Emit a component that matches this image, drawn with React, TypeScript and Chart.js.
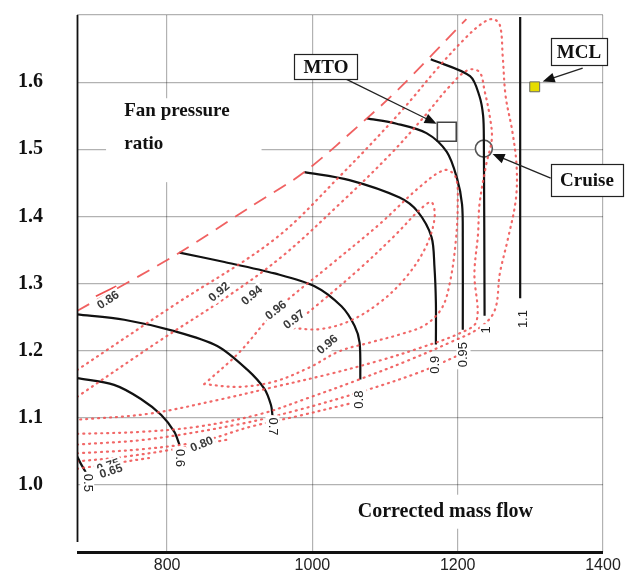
import { useEffect, useRef } from "react";
import { Chart, registerables } from "chart.js";
Chart.register(...registerables);

// ---------- axes ----------
const X_MIN = 676;
const X_MAX = 1400;
const Y_MIN = 0.9;
const Y_MAX = 1.7;
const X_TICKS = [800, 1000, 1200, 1400];
const Y_TICK_LABELS = ["1.0", "1.1", "1.2", "1.3", "1.4", "1.5", "1.6"];

// ---------- surge line ----------
const SURGE_X = [676, 814, 913, 989, 1075, 1120, 1212];
const SURGE_Y = [1.259, 1.344, 1.413, 1.466, 1.546, 1.591, 1.694];

// ---------- speed lines ----------
const N050_X = [676, 681, 688];
const N050_Y = [1.043, 1.032, 1.019];
const N060_X = [676, 727, 764, 792, 810, 817];
const N060_Y = [1.159, 1.149, 1.128, 1.104, 1.079, 1.06];
const N070_X = [676, 741, 810, 869, 910, 934, 943, 945];
const N070_Y = [1.254, 1.246, 1.229, 1.207, 1.172, 1.143, 1.119, 1.104];
const N080_X = [817, 879, 948, 1003, 1040, 1058, 1065, 1066];
const N080_Y = [1.346, 1.332, 1.315, 1.296, 1.266, 1.237, 1.212, 1.157];
const N090_X = [989, 1051, 1120, 1145, 1164, 1168, 1170, 1170];
const N090_Y = [1.466, 1.454, 1.428, 1.407, 1.369, 1.325, 1.271, 1.209];
const N095_X = [1075, 1116, 1157, 1185, 1199, 1206, 1207, 1207];
const N095_Y = [1.546, 1.538, 1.524, 1.496, 1.457, 1.418, 1.369, 1.231];
const N100_X = [1163, 1217, 1230, 1235, 1236, 1237];
const N100_Y = [1.634, 1.609, 1.579, 1.55, 1.516, 1.252];
const N110_X = [1286, 1286];
const N110_Y = [1.697, 1.278];

const SPEED_LABELS = ["0.5", "0.6", "0.7", "0.8", "0.9", "0.95", "1", "1.1"];
const SPEED_LABEL_X = [690, 817, 945, 1065, 1170, 1208, 1240, 1290];
const SPEED_LABEL_Y = [1.003, 1.04, 1.087, 1.127, 1.179, 1.194, 1.231, 1.247];
const SPEED_LABEL_ROT = [90, 90, 90, -90, -90, -90, -90, -90];

// ---------- efficiency contours ----------
const CA_X = [676, 810, 948, 1037, 1120, 1175, 1210, 1233, 1248, 1258, 1262, 1266, 1275, 1281, 1280, 1269, 1258, 1251, 1230, 1189, 1131, 1062, 993, 930, 844, 764, 676];
const CA_Y = [1.171, 1.268, 1.366, 1.459, 1.554, 1.624, 1.665, 1.687, 1.694, 1.685, 1.638, 1.579, 1.528, 1.476, 1.425, 1.366, 1.315, 1.26, 1.234, 1.212, 1.185, 1.156, 1.129, 1.106, 1.087, 1.079, 1.076];
const CB_X = [676, 786, 885, 959, 1037, 1106, 1155, 1189, 1214, 1230, 1237, 1244, 1247, 1239, 1230, 1228, 1223, 1226, 1203, 1148, 1092, 1023, 948, 872, 775, 676];
const CB_Y = [1.131, 1.212, 1.282, 1.341, 1.418, 1.491, 1.55, 1.594, 1.618, 1.615, 1.587, 1.55, 1.516, 1.476, 1.418, 1.374, 1.315, 1.244, 1.226, 1.204, 1.185, 1.165, 1.146, 1.127, 1.106, 1.097];
const CC_X = [851, 899, 950, 1023, 1092, 1148, 1182, 1197, 1200, 1197, 1189, 1178, 1155, 1120, 1079, 1037, 996, 948, 899, 851];
const CC_Y = [1.15, 1.197, 1.26, 1.326, 1.388, 1.444, 1.469, 1.459, 1.418, 1.359, 1.3, 1.263, 1.238, 1.224, 1.212, 1.199, 1.175, 1.154, 1.146, 1.15];
const CD_X = [968, 1010, 1065, 1113, 1148, 1164, 1168, 1155, 1127, 1092, 1051, 1010, 968];
const CD_Y = [1.234, 1.271, 1.322, 1.371, 1.41, 1.421, 1.396, 1.352, 1.307, 1.271, 1.244, 1.232, 1.234];
const CE_X = [676, 775, 902, 982, 1065, 1148, 1203];
const CE_Y = [1.06, 1.068, 1.091, 1.112, 1.138, 1.168, 1.194];
const CF_X = [676, 764, 847, 916, 982, 1051];
const CF_Y = [1.047, 1.053, 1.065, 1.087, 1.103, 1.121];
const CG_X = [676, 734, 810, 886];
const CG_Y = [1.035, 1.041, 1.053, 1.068];
const CH_X = [676, 720, 775];
const CH_Y = [1.024, 1.031, 1.04];
const C86_X = [702, 730];
const C86_Y = [1.281, 1.296];

const EFF_LABELS = ["0.86", "0.92", "0.94", "0.96", "0.97", "0.96", "0.80", "0.75", "0.65"];
const EFF_LABEL_X = [719, 872, 917, 950, 975, 1021, 848, 719, 723];
const EFF_LABEL_Y = [1.275, 1.287, 1.282, 1.26, 1.246, 1.209, 1.06, 1.028, 1.02];
const EFF_LABEL_ROT = [-33, -40, -40, -38, -38, -40, -22, -18, -18];

// ---------- operating points ----------
const POINT_NAMES = ["MTO", "Cruise", "MCL"];
const POINT_X = [1185, 1236, 1306];
const POINT_Y = [1.526, 1.501, 1.593];

// ---------- annotations ----------
const FPR_LINES = ["Fan pressure", "ratio"];
const FPR_X = 741;
const FPR_Y = [1.549, 1.501];
const FPR_BOX_X = [716, 930];
const FPR_BOX_Y = [1.576, 1.451];
const X_TITLE = "Corrected mass flow";
const X_TITLE_POS = [1183, 0.96];

const CALLOUT_TEXT = ["MTO", "MCL", "Cruise"];
const CALLOUT_X = [1018.6, 1367, 1378];
const CALLOUT_Y = [1.623, 1.645, 1.454];
const ARROW_FROM_X = [1047, 1372, 1328];
const ARROW_FROM_Y = [1.604, 1.621, 1.457];
const ARROW_TO_X = [1171, 1317, 1248];
const ARROW_TO_Y = [1.538, 1.601, 1.493];

// ---------- styles ----------
const CALLOUT_W = [63, 56, 72];
const CALLOUT_H = [25, 27, 32];
const SERIF = "'Liberation Serif', 'DejaVu Serif', serif";
const SANS = "'Liberation Sans', 'DejaVu Sans', sans-serif";
const RED_DOT = "rgba(238, 78, 78, 0.85)";

const pts = (xs: number[], ys: number[]) => xs.map((x, i) => ({ x, y: ys[i] }));

const speedSet = (xs: number[], ys: number[]) => ({
  type: "line" as const,
  data: pts(xs, ys),
  borderColor: "#111",
  borderWidth: 2.2,
  pointRadius: 0,
  tension: 0.3,
  fill: false,
});

const contourSet = (xs: number[], ys: number[]) => ({
  type: "line" as const,
  data: pts(xs, ys),
  borderColor: RED_DOT,
  borderWidth: 2.2,
  borderDash: [1, 5],
  borderCapStyle: "round" as const,
  pointRadius: 0,
  tension: 0.35,
  fill: false,
});

function drawArrow(ctx: CanvasRenderingContext2D, x1: number, y1: number, x2: number, y2: number) {
  const a = Math.atan2(y2 - y1, x2 - x1);
  const len = 12;
  const hw = 5;
  ctx.beginPath();
  ctx.moveTo(x1, y1);
  ctx.lineTo(x2 - Math.cos(a) * len * 0.8, y2 - Math.sin(a) * len * 0.8);
  ctx.strokeStyle = "#222";
  ctx.lineWidth = 1.3;
  ctx.stroke();
  ctx.beginPath();
  ctx.moveTo(x2, y2);
  ctx.lineTo(x2 - Math.cos(a) * len - Math.sin(a) * hw, y2 - Math.sin(a) * len + Math.cos(a) * hw);
  ctx.lineTo(x2 - Math.cos(a) * len + Math.sin(a) * hw, y2 - Math.sin(a) * len - Math.cos(a) * hw);
  ctx.closePath();
  ctx.fillStyle = "#111";
  ctx.fill();
}

function rotLabel(ctx: CanvasRenderingContext2D, text: string, px: number, py: number, deg: number, font: string, color: string) {
  ctx.save();
  ctx.translate(px, py);
  ctx.rotate((deg * Math.PI) / 180);
  ctx.font = font;
  const w = ctx.measureText(text).width;
  ctx.fillStyle = "#fff";
  ctx.fillRect(-w / 2 - 2, -7, w + 4, 14);
  ctx.fillStyle = color;
  ctx.textAlign = "center";
  ctx.textBaseline = "middle";
  ctx.fillText(text, 0, 0);
  ctx.restore();
}

const overlayPlugin = {
  id: "overlay",
  beforeDatasetsDraw(chart: any) {
    const { ctx } = chart;
    const xs = chart.scales.x;
    const ys = chart.scales.y;
    ctx.save();
    ctx.fillStyle = "#fff";
    const bx0 = xs.getPixelForValue(FPR_BOX_X[0]);
    const bx1 = xs.getPixelForValue(FPR_BOX_X[1]);
    const by0 = ys.getPixelForValue(FPR_BOX_Y[0]);
    const by1 = ys.getPixelForValue(FPR_BOX_Y[1]);
    ctx.fillRect(bx0, by0, bx1 - bx0, by1 - by0);
    ctx.font = `bold 20px ${SERIF}`;
    const w = ctx.measureText(X_TITLE).width;
    const cx = xs.getPixelForValue(X_TITLE_POS[0]);
    const cy = ys.getPixelForValue(X_TITLE_POS[1]);
    ctx.fillRect(cx - w / 2 - 8, cy - 17, w + 16, 34);
    ctx.restore();
  },
  afterDatasetsDraw(chart: any) {
    const { ctx, chartArea } = chart;
    const xs = chart.scales.x;
    const ys = chart.scales.y;
    ctx.save();

    // axis lines
    ctx.strokeStyle = "#111";
    ctx.lineWidth = 1.8;
    ctx.beginPath();
    ctx.moveTo(chartArea.left + 0.5, chartArea.top);
    ctx.lineTo(chartArea.left + 0.5, chartArea.bottom - 10);
    ctx.stroke();
    ctx.lineWidth = 3;
    ctx.beginPath();
    ctx.moveTo(chartArea.left, chartArea.bottom + 0.5);
    ctx.lineTo(chartArea.right, chartArea.bottom + 0.5);
    ctx.stroke();

    // axis titles
    ctx.fillStyle = "#111";
    ctx.font = `bold 19px ${SERIF}`;
    ctx.textAlign = "left";
    ctx.textBaseline = "alphabetic";
    FPR_LINES.forEach((t, i) => ctx.fillText(t, xs.getPixelForValue(FPR_X), ys.getPixelForValue(FPR_Y[i])));
    ctx.font = `bold 20px ${SERIF}`;
    ctx.textAlign = "center";
    ctx.textBaseline = "middle";
    ctx.fillText(X_TITLE, xs.getPixelForValue(X_TITLE_POS[0]), ys.getPixelForValue(X_TITLE_POS[1]));

    // efficiency labels
    EFF_LABELS.forEach((t, i) =>
      rotLabel(ctx, t, xs.getPixelForValue(EFF_LABEL_X[i]), ys.getPixelForValue(EFF_LABEL_Y[i]), EFF_LABEL_ROT[i], `bold 12px ${SANS}`, "#3a3a3a")
    );
    // speed labels
    SPEED_LABELS.forEach((t, i) =>
      rotLabel(ctx, t, xs.getPixelForValue(SPEED_LABEL_X[i]), ys.getPixelForValue(SPEED_LABEL_Y[i]), SPEED_LABEL_ROT[i], `13px ${SANS}`, "#222")
    );

    // callouts
    CALLOUT_TEXT.forEach((t, i) => {
      drawArrow(
        ctx,
        xs.getPixelForValue(ARROW_FROM_X[i]),
        ys.getPixelForValue(ARROW_FROM_Y[i]),
        xs.getPixelForValue(ARROW_TO_X[i]),
        ys.getPixelForValue(ARROW_TO_Y[i])
      );
      const cx = xs.getPixelForValue(CALLOUT_X[i]);
      const cy = ys.getPixelForValue(CALLOUT_Y[i]);
      const w = CALLOUT_W[i];
      const h = CALLOUT_H[i];
      ctx.fillStyle = "#fff";
      ctx.fillRect(cx - w / 2, cy - h / 2, w, h);
      ctx.strokeStyle = "#222";
      ctx.lineWidth = 1.2;
      ctx.strokeRect(Math.round(cx - w / 2) + 0.5, Math.round(cy - h / 2) + 0.5, w, h);
      ctx.fillStyle = "#111";
      ctx.font = `bold 19px ${SERIF}`;
      ctx.textAlign = "center";
      ctx.textBaseline = "middle";
      ctx.fillText(t, cx, cy + 1);
    });
    ctx.restore();
  },
};

export default function App() {
  const ref = useRef<HTMLCanvasElement | null>(null);
  useEffect(() => {
    if (!ref.current) return;
    const datasets: any[] = [
      contourSet(CA_X, CA_Y),
      contourSet(CB_X, CB_Y),
      contourSet(CC_X, CC_Y),
      contourSet(CD_X, CD_Y),
      contourSet(CE_X, CE_Y),
      contourSet(CF_X, CF_Y),
      contourSet(CG_X, CG_Y),
      contourSet(CH_X, CH_Y),
      {
        type: "line",
        data: pts(C86_X, C86_Y),
        borderColor: "rgba(235,60,60,0.9)",
        borderWidth: 1.8,
        pointRadius: 0,
        fill: false,
      },
      {
        type: "line",
        data: pts(SURGE_X, SURGE_Y),
        borderColor: "rgba(238,80,80,0.9)",
        borderWidth: 1.8,
        borderDash: [14, 9],
        pointRadius: 0,
        tension: 0.3,
        fill: false,
      },
      speedSet(N050_X, N050_Y),
      speedSet(N060_X, N060_Y),
      speedSet(N070_X, N070_Y),
      speedSet(N080_X, N080_Y),
      speedSet(N090_X, N090_Y),
      speedSet(N095_X, N095_Y),
      speedSet(N100_X, N100_Y),
      speedSet(N110_X, N110_Y),
      {
        type: "scatter",
        label: POINT_NAMES[0],
        data: [{ x: POINT_X[0], y: POINT_Y[0] }],
        pointStyle: "rect",
        pointRadius: 13.4,
        backgroundColor: "#fff",
        borderColor: "#444",
        borderWidth: 1.6,
      },
      {
        type: "scatter",
        label: POINT_NAMES[1],
        data: [{ x: POINT_X[1], y: POINT_Y[1] }],
        pointStyle: "circle",
        pointRadius: 8.5,
        backgroundColor: "#fff",
        borderColor: "#555",
        borderWidth: 1.6,
      },
      {
        type: "scatter",
        label: POINT_NAMES[2],
        data: [{ x: POINT_X[2], y: POINT_Y[2] }],
        pointStyle: "rect",
        pointRadius: 7,
        backgroundColor: "#e6dc00",
        borderColor: "#666",
        borderWidth: 1,
      },
    ];
    const chart = new Chart(ref.current, {
      type: "scatter",
      data: { datasets },
      options: {
        animation: false,
        responsive: true,
        maintainAspectRatio: false,
        layout: { padding: { top: 8, right: 26, left: 0, bottom: 0 } },
        plugins: { legend: { display: false }, tooltip: { enabled: false } },
        elements: { point: { hoverRadius: 0 } },
        scales: {
          x: {
            type: "linear",
            min: X_MIN,
            max: X_MAX,
            afterBuildTicks: (s: any) => {
              s.ticks = X_TICKS.map((v) => ({ value: v }));
            },
            afterFit: (s: any) => {
              s.height = 23;
              s.paddingLeft = 0;
              s.paddingRight = 0;
            },
            ticks: {
              autoSkip: false,
              maxRotation: 0,
              padding: 4,
              color: "#222",
              font: { family: SANS, size: 16 },
              callback: (v: any) => String(v),
            },
            grid: { color: "rgba(0,0,0,0.3)", lineWidth: 1.2, drawTicks: false },
            border: { display: false },
          },
          y: {
            type: "linear",
            min: Y_MIN,
            max: Y_MAX,
            afterFit: (s: any) => {
              s.width = 77;
              s.paddingTop = 0;
              s.paddingBottom = 0;
            },
            ticks: {
              stepSize: 0.1,
              padding: 34,
              color: "#111",
              font: { family: SERIF, size: 20, weight: "bold" },
              callback: (v: any) => {
                const s = Number(v).toFixed(1);
                return Y_TICK_LABELS.includes(s) ? s : "";
              },
            },
            grid: { color: "rgba(0,0,0,0.3)", lineWidth: 1.2, drawTicks: false },
            border: { display: false },
          },
        },
      },
      plugins: [overlayPlugin],
    } as any);
    return () => chart.destroy();
  }, []);
  return (
    <div style={{ position: "fixed", left: 0, top: 0, width: 629, height: 575, background: "#fff" }}>
      <canvas ref={ref} />
    </div>
  );
}
